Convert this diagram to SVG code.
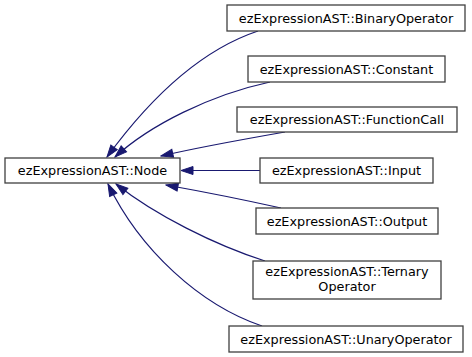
<svg xmlns="http://www.w3.org/2000/svg" width="472" height="357" viewBox="0 0 472 357">
  <style>
    .box { fill: #ffffff; stroke: #404040; stroke-width: 1.3; }
    .lbl { font-family: "DejaVu Sans", "Liberation Sans", sans-serif; font-size: 12.8px; fill: #000000; text-anchor: middle; }
    .edge { fill: none; stroke: #191970; stroke-width: 1.2; }
  </style>
  <defs>
    <marker id="arrow" markerUnits="userSpaceOnUse" markerWidth="14" markerHeight="11" viewBox="0 0 14 11" refX="13" refY="5.5" orient="auto">
      <path d="M1,1.5 L13,5.5 L1,9.5 z" fill="#191970" stroke="#191970" stroke-width="1"/>
    </marker>
  </defs>
  <rect width="472" height="357" fill="#ffffff"/>

  <!-- inheritance edges, each pointing at the base class -->
  <g id="edges">
    <path class="edge" d="M258,31 C195,52 145,105 107,157" marker-end="url(#arrow)"/>
    <path class="edge" d="M270,82 C210,95 150,125 115,157" marker-end="url(#arrow)"/>
    <path class="edge" d="M285,132 C245,139 200,147 161,156" marker-end="url(#arrow)"/>
    <path class="edge" d="M260,170.5 L181,170.5" marker-end="url(#arrow)"/>
    <path class="edge" d="M281,208 C245,200 205,192 166,185" marker-end="url(#arrow)"/>
    <path class="edge" d="M265,261 C215,245 155,215 116,184" marker-end="url(#arrow)"/>
    <path class="edge" d="M262,326 C200,305 140,250 108,184" marker-end="url(#arrow)"/>
  </g>

  <g id="node-Node">
    <rect class="box" x="5" y="158" width="175" height="25"/>
    <text class="lbl" x="92.5" y="175">ezExpressionAST::Node</text>
  </g>
  <g id="node-BinaryOperator">
    <rect class="box" x="227" y="5" width="238" height="26"/>
    <text class="lbl" x="346" y="22.5">ezExpressionAST::BinaryOperator</text>
  </g>
  <g id="node-Constant">
    <rect class="box" x="248" y="56" width="197" height="26"/>
    <text class="lbl" x="346.5" y="73.5">ezExpressionAST::Constant</text>
  </g>
  <g id="node-FunctionCall">
    <rect class="box" x="237" y="107" width="220" height="25"/>
    <text class="lbl" x="347" y="124">ezExpressionAST::FunctionCall</text>
  </g>
  <g id="node-Input">
    <rect class="box" x="260" y="158" width="173" height="25"/>
    <text class="lbl" x="346.5" y="175">ezExpressionAST::Input</text>
  </g>
  <g id="node-Output">
    <rect class="box" x="256" y="208" width="182" height="26"/>
    <text class="lbl" x="347" y="225.5">ezExpressionAST::Output</text>
  </g>
  <g id="node-TernaryOperator">
    <rect class="box" x="253" y="261" width="188" height="38"/>
    <text class="lbl" x="347" y="276">ezExpressionAST::Ternary</text>
    <text class="lbl" x="347" y="291">Operator</text>
  </g>
  <g id="node-UnaryOperator">
    <rect class="box" x="229" y="326" width="234" height="26"/>
    <text class="lbl" x="346" y="343.5">ezExpressionAST::UnaryOperator</text>
  </g>
</svg>
